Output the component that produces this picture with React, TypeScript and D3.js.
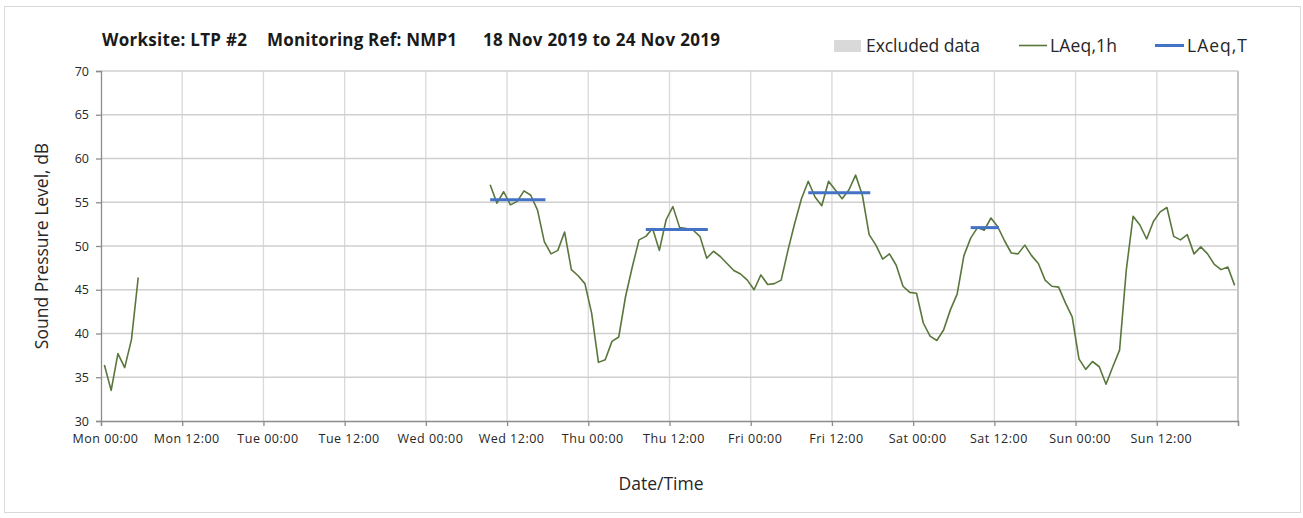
import React, { useEffect, useRef } from 'react'
import { select, scaleUtc, scaleLinear, axisBottom, axisLeft, line, utcParse, utcHour } from 'd3'

const titleParts = ['Worksite: LTP #2', 'Monitoring Ref: NMP1', '18 Nov 2019 to 24 Nov 2019']

const xStart = '2019-11-18T00:00'
const xEnd = '2019-11-25T00:00'
const xTickLabels = [
    'Mon 00:00', 'Mon 12:00', 'Tue 00:00', 'Tue 12:00', 'Wed 00:00', 'Wed 12:00', 'Thu 00:00',
    'Thu 12:00', 'Fri 00:00', 'Fri 12:00', 'Sat 00:00', 'Sat 12:00', 'Sun 00:00', 'Sun 12:00', ''
]
const yTicks = [30, 35, 40, 45, 50, 55, 60, 65, 70]

// hourly LAeq,1h, first block (Mon early hours)
const monStart = '2019-11-18T00:30'
const monValues = [36.4, 33.5, 37.7, 36.1, 39.3, 46.4]

// hourly LAeq,1h, second block (Wed morning to Sun night)
const mainStart = '2019-11-20T09:30'
const mainValues = [
    57.0, 54.9, 56.2, 54.7, 55.1, 56.3, 55.8, 54.1, 50.5, 49.1, 49.5, 51.6, 47.3, 46.6, 45.7,
    42.3, 36.7, 37.0, 39.1, 39.6, 44.2, 47.6, 50.7, 51.1, 52.0, 49.5, 53.0, 54.5, 52.1, 52.0,
    51.8, 51.1, 48.6, 49.4, 48.8, 48.0, 47.2, 46.8, 46.1, 45.0, 46.7, 45.6, 45.7, 46.1, 49.5,
    52.6, 55.4, 57.4, 55.6, 54.6, 57.4, 56.4, 55.4, 56.4, 58.1, 55.8, 51.3, 50.1, 48.5, 49.1,
    47.8, 45.4, 44.7, 44.6, 41.2, 39.7, 39.2, 40.4, 42.7, 44.5, 48.9, 50.9, 52.1, 51.8, 53.2,
    52.2, 50.6, 49.2, 49.1, 50.1, 48.9, 48.0, 46.1, 45.4, 45.3, 43.5, 41.9, 37.1, 35.9, 36.8,
    36.2, 34.2, 36.2, 38.1, 47.3, 53.4, 52.4, 50.8, 52.8, 53.9, 54.4, 51.1, 50.7, 51.3, 49.1,
    49.9, 49.1, 47.9, 47.3, 47.6, 45.5
]

// LAeq,T periods
const periodStarts = ['2019-11-20T09:30', '2019-11-21T08:30', '2019-11-22T08:30', '2019-11-23T08:30']
const periodEnds = ['2019-11-20T17:40', '2019-11-21T17:40', '2019-11-22T17:40', '2019-11-23T12:40']
const periodValues = [55.3, 51.9, 56.1, 52.1]

const parse = utcParse('%Y-%m-%dT%H:%M')
const fontFamily = "'Open Sans', sans-serif"

function Chart() {
    const ref = useRef<SVGSVGElement>(null)

    useEffect(() => {
        const width = 1303
        const height = 518
        const m = { top: 71, right: 65, bottom: 97, left: 101 }
        const plotW = width - m.left - m.right
        const plotH = height - m.top - m.bottom

        const svg = select(ref.current)
        svg.selectAll('*').remove()

        svg.append('rect')
            .attr('x', 4.5).attr('y', 6.5)
            .attr('width', 1296).attr('height', 506)
            .attr('fill', 'white').attr('stroke', '#d9d9d9')

        const x = scaleUtc().domain([parse(xStart), parse(xEnd)]).range([0, plotW])
        const y = scaleLinear().domain([30, 70]).range([plotH, 0])

        const g = svg.append('g').attr('transform', `translate(${m.left},${m.top})`)

        const xTicks = utcHour.every(12).range(parse(xStart), new Date(+parse(xEnd) + 1))

        // gridlines
        g.append('g').selectAll('line').data(xTicks.slice(1)).enter().append('line')
            .attr('x1', d => x(d)).attr('x2', d => x(d))
            .attr('y1', 0).attr('y2', plotH)
            .attr('stroke', (d, i) => i === xTicks.length - 2 ? '#a6a6a6' : '#d9d9d9')
            .attr('stroke-width', 1.3)
        g.append('g').selectAll('line').data(yTicks.slice(1)).enter().append('line')
            .attr('x1', 0).attr('x2', plotW)
            .attr('y1', d => y(d)).attr('y2', d => y(d))
            .attr('stroke', '#cfcfcf')
            .attr('stroke-width', 1.3)

        // axes
        const xAxis = g.append('g').attr('transform', `translate(0,${plotH})`)
            .call(axisBottom(x).tickValues(xTicks).tickSize(5).tickPadding(8)
                .tickFormat((d, i) => xTickLabels[i]))
        xAxis.selectAll('.tick text').attr('dx', 4)
        const yAxis = g.append('g')
            .call(axisLeft(y).tickValues(yTicks).tickSize(5).tickPadding(7).tickFormat(d => String(d)))
        for (const ax of [xAxis, yAxis]) {
            ax.select('.domain').attr('stroke', '#8c8c8c').attr('stroke-width', 1.3)
            ax.selectAll('.tick line').attr('stroke', '#8c8c8c').attr('stroke-width', 1.3)
            ax.selectAll('.tick text').attr('fill', '#262626')
                .style('font-family', fontFamily).style('font-size', '12.5px')
        }
        xAxis.selectAll('.tick text').style('letter-spacing', '0.5px')

        const ln = line<[Date, number]>().x(d => x(d[0])).y(d => y(d[1]))
        const toSeries = (start: string, vals: number[]) =>
            vals.map((v, i) => [new Date(+parse(start) + i * 3600000), v] as [Date, number])

        for (const s of [toSeries(monStart, monValues), toSeries(mainStart, mainValues)]) {
            g.append('path').datum(s)
                .attr('fill', 'none')
                .attr('stroke', '#59773c')
                .attr('stroke-width', 1.6)
                .attr('stroke-linejoin', 'round')
                .attr('d', ln)
        }

        g.append('g').selectAll('line').data(periodValues).enter().append('line')
            .attr('x1', (d, i) => x(parse(periodStarts[i])))
            .attr('x2', (d, i) => x(parse(periodEnds[i])))
            .attr('y1', d => y(d)).attr('y2', d => y(d))
            .attr('stroke', '#4472c4').attr('stroke-width', 3)

        // title
        const titleX = [102, 267, 483]
        const titleW = [145, 190, 237]
        svg.append('g').selectAll('text').data(titleParts).enter().append('text')
            .attr('x', (d, i) => titleX[i]).attr('y', 46)
            .attr('textLength', (d, i) => titleW[i])
            .attr('fill', '#1a1a1a')
            .style('font-family', fontFamily).style('font-size', '17px').style('font-weight', 'bold')
            .text(d => d)

        // legend
        const lg = svg.append('g').style('font-family', fontFamily).style('font-size', '17.5px').attr('fill', '#262626')
        lg.append('rect').attr('x', 834).attr('y', 40).attr('width', 27).attr('height', 12).attr('fill', '#d9d9d9')
        lg.append('text').attr('x', 866).attr('y', 52).attr('textLength', 114).text('Excluded data')
        lg.append('line').attr('x1', 1019).attr('x2', 1047).attr('y1', 45.5).attr('y2', 45.5)
            .attr('stroke', '#59773c').attr('stroke-width', 1.6)
        lg.append('text').attr('x', 1050).attr('y', 52).attr('textLength', 67).text('LAeq,1h')
        lg.append('line').attr('x1', 1155).attr('x2', 1184).attr('y1', 45.5).attr('y2', 45.5)
            .attr('stroke', '#4472c4').attr('stroke-width', 3)
        lg.append('text').attr('x', 1187).attr('y', 52).attr('textLength', 60).text('LAeq,T')

        // axis titles
        svg.append('text')
            .attr('transform', `translate(48,${m.top + plotH / 2}) rotate(-90)`)
            .attr('text-anchor', 'middle').attr('fill', '#262626')
            .style('font-family', fontFamily).style('font-size', '17.5px')
            .text('Sound Pressure Level, dB')
        svg.append('text')
            .attr('x', 661).attr('y', 490)
            .attr('text-anchor', 'middle').attr('fill', '#262626')
            .style('font-family', fontFamily).style('font-size', '17.5px')
            .text('Date/Time')
    }, [])

    return <svg ref={ref} width={1303} height={518} style={{ display: 'block' }} />
}

export default function App() {
    return (
        <div style={{ position: 'absolute', left: 0, top: 0, background: 'white' }}>
            <Chart />
        </div>
    )
}
